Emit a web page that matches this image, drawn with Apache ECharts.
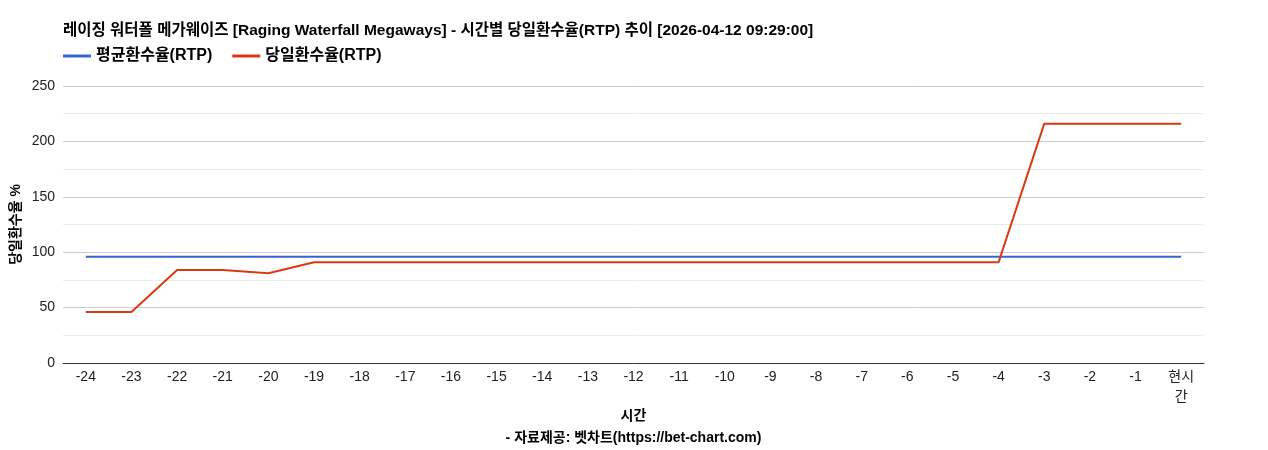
<!DOCTYPE html>
<html>
<head>
<meta charset="utf-8">
<script src="https://cdn.jsdelivr.net/npm/echarts@6/dist/echarts.min.js"></script>
<style>
html,body{margin:0;padding:0;background:#fff;}
#c{width:1268px;height:450px;}
</style>
</head>
<body>
<div id="c"></div>
<script>
const titleText = '레이징 워터폴 메가웨이즈 [Raging Waterfall Megaways] - 시간별 당일환수율(RTP) 추이 [2026-04-12 09:29:00]';
const categories = ['-24','-23','-22','-21','-20','-19','-18','-17','-16','-15','-14','-13','-12','-11','-10','-9','-8','-7','-6','-5','-4','-3','-2','-1','현시간'];
const avgRtp = [96,96,96,96,96,96,96,96,96,96,96,96,96,96,96,96,96,96,96,96,96,96,96,96,96];
const dayRtp = [46,46,84,84,81,91,91,91,91,91,91,91,91,91,91,91,91,91,91,91,91,216,216,216,216];
const yTicks = [0,50,100,150,200,250];

const font = 'Arial, "Liberation Sans", "Noto Sans CJK KR", sans-serif';
const chart = echarts.init(document.getElementById('c'));
chart.setOption({
  animation: false,
  textStyle: {fontFamily: font},
  title: {
    text: titleText, left: 58, top: 18,
    textStyle: {fontSize: 15.5, fontWeight: 'bold', color: '#000', fontFamily: font}
  },
  legend: {
    left: 58, top: 43, itemWidth: 28, itemHeight: 3, itemGap: 20,
    icon: 'rect',
    textStyle: {fontSize: 16, fontWeight: 'bold', color: '#000', fontFamily: font},
    data: ['평균환수율(RTP)', '당일환수율(RTP)']
  },
  grid: {left: 63, right: 64, top: 86, bottom: 87, containLabel: false, outerBoundsMode: 'none'},
  xAxis: {
    type: 'category', data: categories, boundaryGap: true,
    axisLine: {lineStyle: {color: '#333', width: 1}},
    axisTick: {show: false},
    axisLabel: {
      interval: 0, fontSize: 14, color: '#222', margin: 4, lineHeight: 20,
      formatter: v => v === '현시간' ? '현시\n간' : v
    },
    name: '시간\n- 자료제공: 벳차트(https://bet-chart.com)',
    nameLocation: 'middle', nameGap: 42, nameMoveOverlap: false,
    nameTextStyle: {fontSize: 14, fontWeight: 'bold', color: '#000', lineHeight: 22, fontFamily: font}
  },
  yAxis: {
    type: 'value', min: yTicks[0], max: yTicks[yTicks.length-1], interval: 50,
    axisLine: {show: false}, axisTick: {show: false},
    axisLabel: {fontSize: 14, color: '#222', margin: 8},
    splitLine: {lineStyle: {color: '#cccccc'}},
    minorTick: {show: false, splitNumber: 2},
    minorSplitLine: {show: true, lineStyle: {color: '#ebebeb'}},
    name: '당일환수율 %', nameLocation: 'middle', nameGap: 40, nameRotate: 90, nameMoveOverlap: false,
    nameTextStyle: {fontSize: 14, fontWeight: 'bold', color: '#000', fontFamily: font}
  },
  series: [
    {name: '평균환수율(RTP)', type: 'line', data: avgRtp, symbol: 'none',
     lineStyle: {color: '#3366cc', width: 2}, itemStyle: {color: '#3366cc'}},
    {name: '당일환수율(RTP)', type: 'line', data: dayRtp, symbol: 'none',
     lineStyle: {color: '#dc3912', width: 2}, itemStyle: {color: '#dc3912'}}
  ]
});
</script>
</body>
</html>
